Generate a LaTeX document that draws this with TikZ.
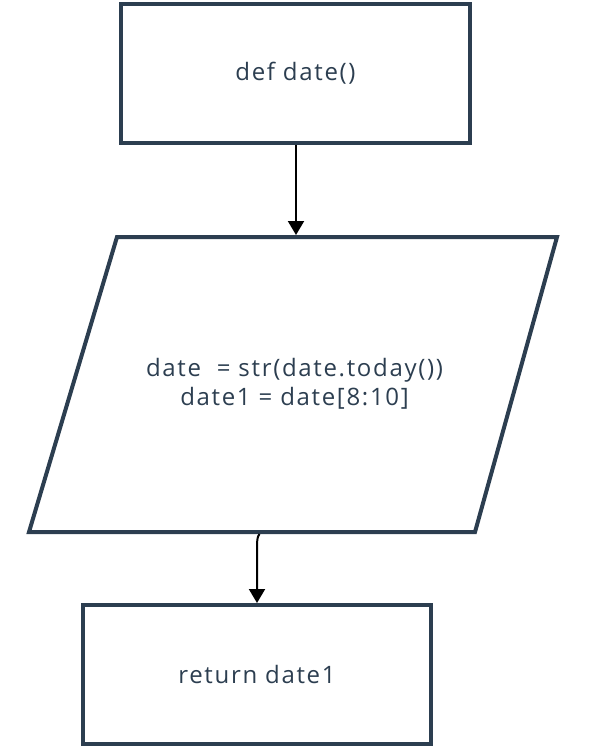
\documentclass[tikz,border=0pt]{standalone}
\usepackage{fontspec}
\setmainfont{Open Sans}[LetterSpace=7]
\usetikzlibrary{arrows.meta}
\definecolor{navy}{RGB}{44,62,80}
\begin{document}
\begin{tikzpicture}[x=1pt,y=-1pt,
                    block/.style={draw=navy,line width=4pt,minimum width=349pt,minimum height=139pt},
                    link/.style={-{Triangle[length=14pt,width=16pt]},line width=2pt},
                    every node/.style={text=navy,font=\fontsize{24pt}{29pt}\selectfont}]
 \useasboundingbox (0,0) rectangle (590,746);
 % start
 \node[block] (def) at (295.5,73.5) {def date()};
 % input / output
 \coordinate (p1) at (117,237);
 \coordinate (p2) at (557,237);
 \coordinate (p3) at (475,532);
 \coordinate (p4) at (29,532);
 \draw[draw=navy,line width=4pt,line join=miter] (p1)--(p2)--(p3)--(p4)--cycle;
 \node[align=center] (io) at (294.5,384) {date\ \ = str(date.today())\\date1 = date[8:10]};
 \coordinate (iotop) at (296,235);
 \coordinate (iobot) at (259.5,534);
 % return
 \node[block,minimum width=348pt] (ret) at (257,674.5) {return date1};
 \draw[link] (def.south -| iotop) -- (iotop);
 \draw[link] (iobot) .. controls (257,537) and (257,541) .. (257,550) -- (ret.north);
\end{tikzpicture}
\end{document}
